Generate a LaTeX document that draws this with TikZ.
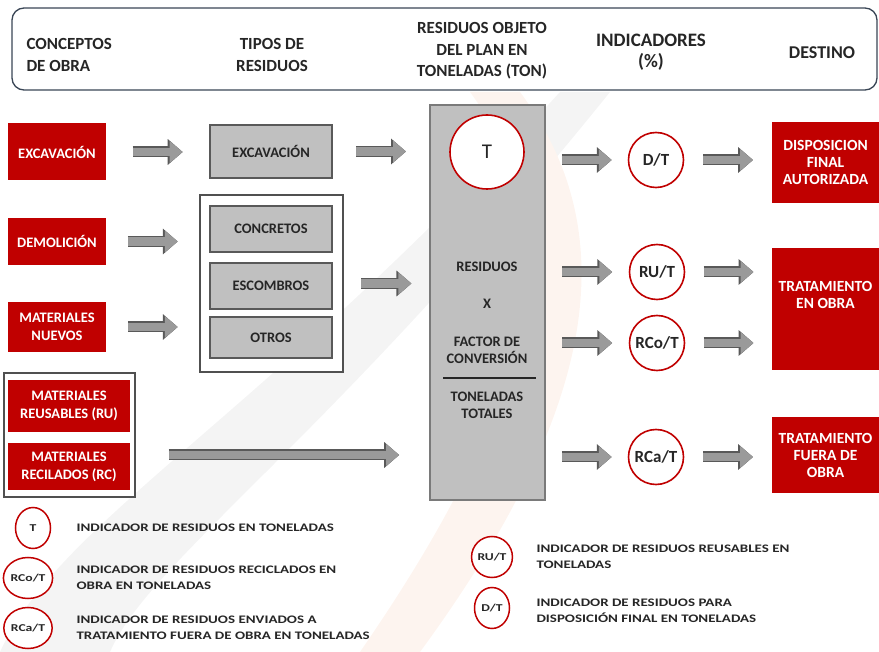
\documentclass[tikz,border=0pt]{standalone}
\usepackage{fontspec}
\setmainfont{Carlito}
\newfontfamily\legfont{Carlito}[FakeStretch=1.3]
\usetikzlibrary{positioning,arrows.meta,calc,shapes.geometric}
\definecolor{brick}   {HTML}{C00000}
\definecolor{slate}   {HTML}{3A4656}
\definecolor{steel}   {HTML}{C0C0C0}
\definecolor{darkrim} {HTML}{595959}
\definecolor{ink}     {HTML}{262626}
\definecolor{shaft}   {HTML}{9A9A9A}
\definecolor{swoosh}  {HTML}{F4F4F4}
\definecolor{peach}   {HTML}{FDF4EF}
\tikzset{
  every node/.style={font=\bfseries\fontsize{14.5}{17}\selectfont, text=ink},
  % --- nodes
  src/.style   = {fill=brick, text=white, align=center, inner sep=2pt,
                  minimum width=98, font=\bfseries\fontsize{14.5}{18}\selectfont},
  kind/.style  = {fill=steel, draw=darkrim, line width=1.6pt, align=center,
                  minimum width=122},
  frame/.style = {fill=white, draw=darkrim!90!black, line width=1.4pt},
  ind/.style   = {circle, fill=white, draw=brick, line width=1.6pt, inner sep=0pt,
                  minimum size=55, font=\bfseries\fontsize{17}{19}\selectfont},
  legc/.style  = {ellipse, fill=white, draw=brick, line width=1.5pt, inner sep=0pt,
                  minimum width=35, minimum height=41,
                  font=\legfont\bfseries\fontsize{10.5}{11}\selectfont},
  dest/.style  = {src, minimum width=107, font=\bfseries\fontsize{15.5}{17}\selectfont},
  hd/.style    = {align=center, font=\bfseries\fontsize{17}{21.5}\selectfont},
  leg/.style   = {anchor=west, align=left, font=\legfont\bfseries\fontsize{11.5}{16.5}\selectfont},
  mid/.style   = {align=center, font=\bfseries\fontsize{14.5}{17.5}\selectfont},
  % --- edges
  fat/.style   = {line width=8.5pt, draw=shaft, -{Triangle[length=13pt,width=21pt]},
                  preaction={draw=darkrim, line width=11pt,
                             -{Triangle[length=15pt,width=25pt]}}},
}
\begin{document}
\begin{tikzpicture}[x=1pt, y=-1pt]
  \useasboundingbox (0,0) rectangle (879,652);

  % fondo
  \fill[swoosh] (0,652) .. controls (60,520) and (260,420) .. (560,92)
        -- (610,92) .. controls (330,440) and (150,560) .. (110,652) -- cycle;
  \fill[peach] (360,652) .. controls (520,420) and (580,240) .. (470,92)
        -- (520,92) .. controls (630,240) and (590,420) .. (420,652) -- cycle;

  % header
  \node[draw=slate, fill=white, line width=1.3pt, rounded corners=12pt, minimum width=865,
        minimum height=82] (hdr) at (444.5,49) {};
  \node[hd, anchor=west, align=left] (h1) at (23,55) {CONCEPTOS\\DE OBRA};
  \node[hd] (h2) at (272,55) {TIPOS DE\\RESIDUOS};
  \node[hd] (h3) at (482,51) {RESIDUOS OBJETO\\DEL PLAN EN\\TONELADAS (TON)};
  \node[hd, font=\bfseries\fontsize{19}{21}\selectfont] (h4) at (651,52) {INDICADORES\\(\%)};
  \node[hd, font=\bfseries\fontsize{18}{21}\selectfont] (h5) at (822,53) {DESTINO};

  % conceptos de obra
  \node[src, minimum height=57] (cexc) at (57,152) {EXCAVACIÓN};
  \node[src, minimum height=47] (cdem) at (57,241.5) {DEMOLICIÓN};
  \node[src, minimum height=50] (cnue) at (57,327) {MATERIALES\\NUEVOS};
  \node[frame, minimum width=131, minimum height=124] (mfr) at (69.5,435) {};
  \node[src, minimum width=122, minimum height=52] (cru) at (69,406) {MATERIALES\\REUSABLES (RU)};
  \node[src, minimum width=122, minimum height=47] (crc) at (69,466.5) {MATERIALES\\RECILADOS (RC)};

  % tipos de residuos
  \node[kind, minimum height=53] (texc) at (271,151.5) {EXCAVACIÓN};
  \node[frame, minimum width=143, minimum height=177] (tfr) at (271.5,283.5) {};
  \node[kind, minimum height=46] (tcon) at (271,229) {CONCRETOS};
  \node[kind, minimum height=46] (tesc) at (271,286) {ESCOMBROS};
  \node[kind, minimum height=41] (totr) at (271,337.5) {OTROS};

  % residuos objeto del plan
  \node[fill=steel, draw=darkrim!80, line width=1.6pt, minimum width=115,
        minimum height=395] (cbox) at (487.5,302.5) {};
  \node[ind, minimum size=74, font=\fontsize{21}{23}\selectfont] (ct) at (487,152) {T};
  \node[mid] (mres) at (487,267) {RESIDUOS};
  \node[mid] (mx) at (487,304) {X};
  \node[mid] (mfac) at (487,350.5) {FACTOR DE\\CONVERSIÓN};
  \draw[line width=2pt, ink] (443,378) -- (536,378);
  \node[mid] (mton) at (487,405.5) {TONELADAS\\TOTALES};

  % indicadores
  \node[ind] (dt) at (656,160) {D/T};
  \node[ind] (rut) at (657,272) {RU/T};
  \node[ind] (rcot) at (657,343) {RCo/T};
  \node[ind] (rcat) at (656,457) {RCa/T};

  % destino
  \node[dest, minimum height=81] (d1) at (825.5,162.5) {DISPOSICION\\FINAL\\AUTORIZADA};
  \node[dest, minimum height=122] (d2) at (825.5,309) {TRATAMIENTO\\EN OBRA\\[12pt]};
  \node[dest, minimum height=76] (d3) at (825.5,455) {TRATAMIENTO\\FUERA DE\\OBRA};

  % flechas
  \foreach \a/\b in {cexc/texc, cdem/tfr, cnue/tfr, texc/cbox, tfr/cbox,
                     dt/d1, rut/d2, rcot/d2, rcat/d3}
    \draw[fat] ($(\a.east)!.5!(\b.west |- \a.east)$) +(-25,0) -- +(25,0);
  \foreach \b in {dt, rut, rcot, rcat}
    \draw[fat] ($(cbox.east |- \b)!.5!(\b.west)$) +(-25,0) -- +(25,0);
  \draw[fat] ($(mfr.east)+(33,20)$) -- ($(mfr.east -| cbox.west)+(-30,20)$);

  % leyenda
  \node[legc] (lt) at (33,528) {T};
  \node[legc] (lrco) at (28,578) {RCo/T};
  \node[legc] (lrca) at (28,628) {RCa/T};
  \node[legc] (lru) at (492,557) {RU/T};
  \node[legc] (ldt) at (492,608) {D/T};
  \node[leg] at (73,528) {INDICADOR DE RESIDUOS EN TONELADAS};
  \node[leg] at (73,578) {INDICADOR DE RESIDUOS RECICLADOS EN\\OBRA EN TONELADAS};
  \node[leg] at (73,628) {INDICADOR DE RESIDUOS ENVIADOS A\\TRATAMIENTO FUERA DE OBRA EN TONELADAS};
  \node[leg] at (533,557) {INDICADOR DE RESIDUOS REUSABLES EN\\TONELADAS};
  \node[leg] at (533,611) {INDICADOR DE RESIDUOS PARA\\DISPOSICIÓN FINAL EN TONELADAS};
\end{tikzpicture}
\end{document}
